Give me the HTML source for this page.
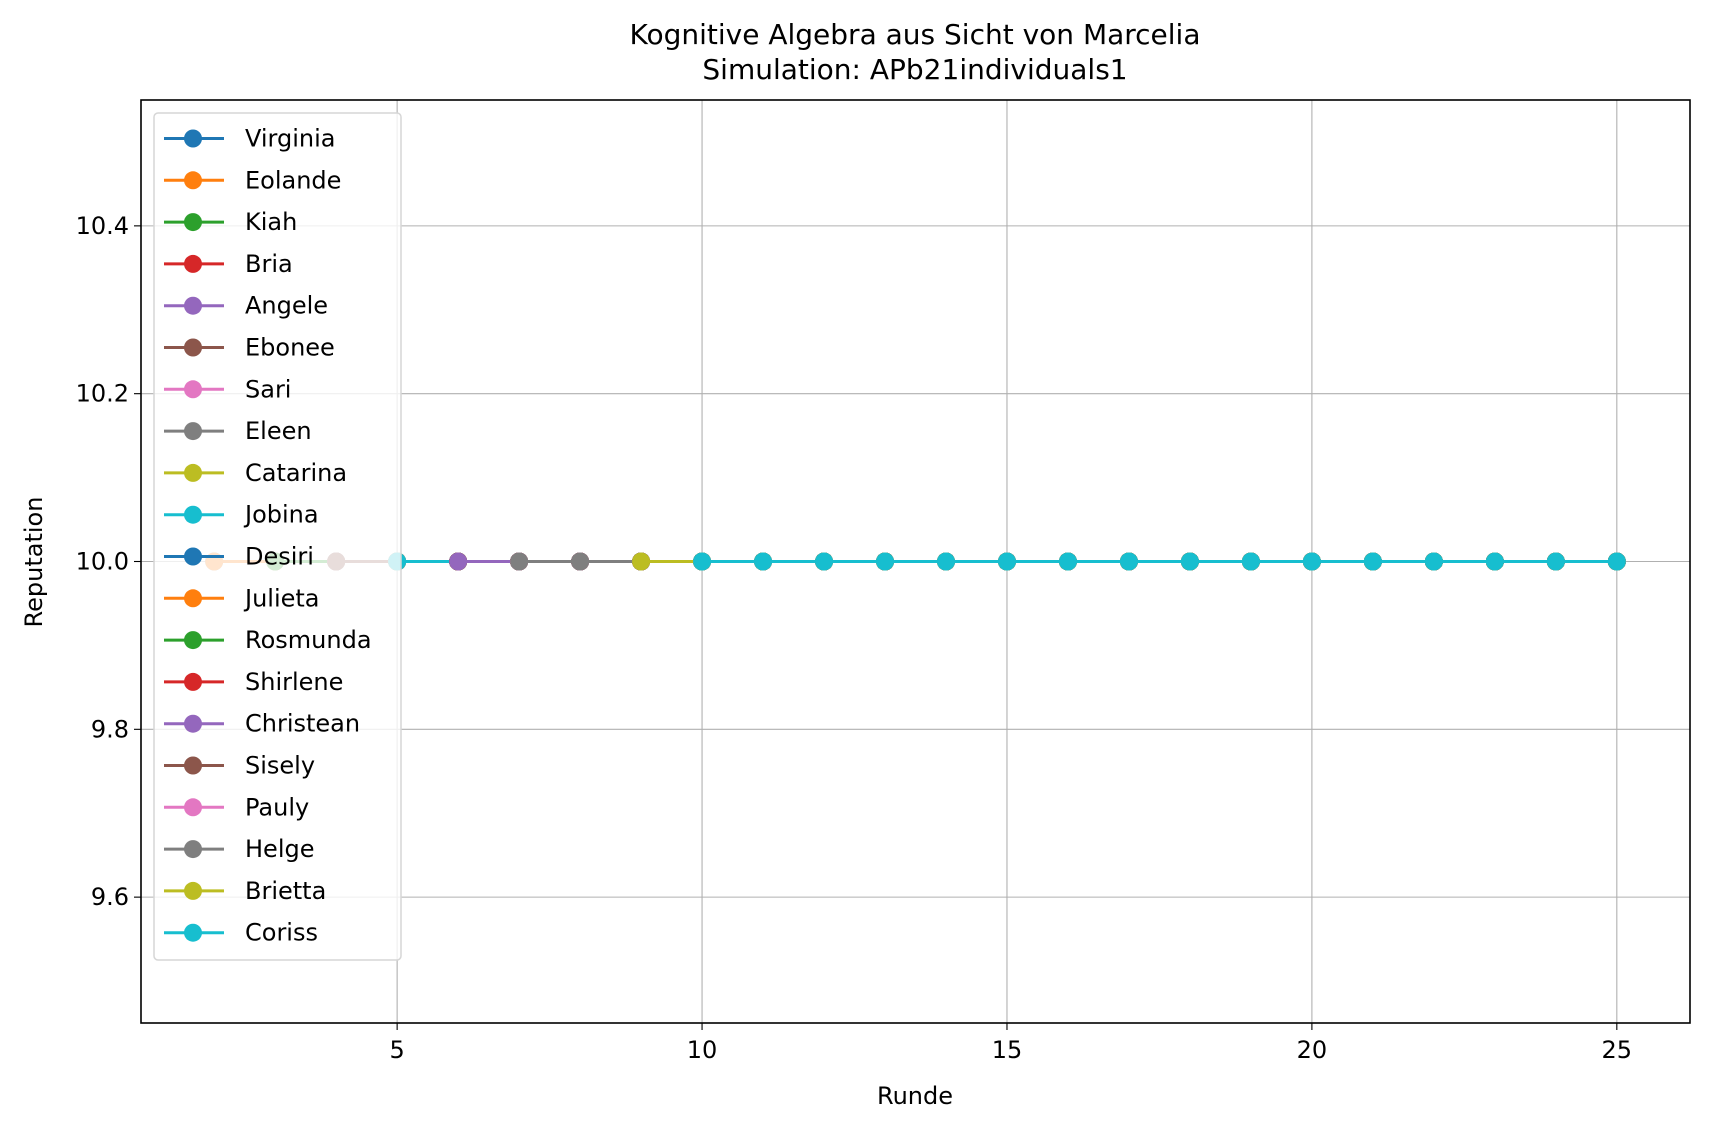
<!DOCTYPE html>
<html><head><meta charset="utf-8"><style>
body{margin:0;background:#fff}
svg{display:block;font-family:"DejaVu Sans","Liberation Sans",sans-serif}
</style></head><body>
<svg id="chart" width="1710" height="1131" viewBox="0 0 1710 1131">
<rect width="1710" height="1131" fill="#fff"/>
<text x="915" y="44" font-size="28" text-anchor="middle">Kognitive Algebra aus Sicht von Marcelia</text>
<text x="915" y="79" font-size="28" text-anchor="middle">Simulation: APb21individuals1</text>
<g id="grid"></g>
<g id="series"></g>
<g id="axes"></g>
<g id="legend"></g>
<text x="915" y="1104" font-size="24" text-anchor="middle">Runde</text>
<text x="0" y="0" font-size="24" text-anchor="middle" transform="translate(42,562) rotate(-90)">Reputation</text>
</svg>
<script>
const names=["Virginia","Eolande","Kiah","Bria","Angele","Ebonee","Sari","Eleen","Catarina","Jobina","Desiri","Julieta","Rosmunda","Shirlene","Christean","Sisely","Pauly","Helge","Brietta","Coriss"];
const startRounds=[2,2,3,4,4,4,5,5,5,5,6,6,6,6,6,7,7,7,9,10];
const lastRound=25;
const seriesValue=10.0;
const xTicks=[5,10,15,20,25];
const yTicks=[9.6,9.8,10.0,10.2,10.4];
const yTickLabels=["9.6","9.8","10.0","10.2","10.4"];
const colors=["#1f77b4","#ff7f0e","#2ca02c","#d62728","#9467bd","#8c564b","#e377c2","#7f7f7f","#bcbd22","#17becf"];
const L=141,R=1690,T=100,B=1023;
const xMin=0.8,xMax=26.2,yMin=9.45,yMax=10.55;
const X=v=>L+(v-xMin)/(xMax-xMin)*(R-L);
const Y=v=>B-(v-yMin)/(yMax-yMin)*(B-T);
const NS="http://www.w3.org/2000/svg";
function mk(tag,attrs,parent){const e=document.createElementNS(NS,tag);for(const k in attrs)e.setAttribute(k,attrs[k]);parent.appendChild(e);return e;}
const grid=document.getElementById('grid'),axes=document.getElementById('axes'),ser=document.getElementById('series'),leg=document.getElementById('legend');
xTicks.forEach(t=>{
 const g=mk('line',{x1:X(t),x2:X(t),y1:T,y2:B,stroke:'#b0b0b0','stroke-width':1.1},grid);
 
 
 const tk=mk('line',{x1:X(t),x2:X(t),y1:B,y2:B+7,stroke:'#000','stroke-width':1.1},axes);
 
 
 const tl=mk('text',{x:X(t),y:B+35,'font-size':24,'text-anchor':'middle'},axes);
 tl.textContent=t;
 
 
});
yTicks.forEach((t,i)=>{
 const g=mk('line',{x1:L,x2:R,y1:Y(t),y2:Y(t),stroke:'#b0b0b0','stroke-width':1.1},grid);
 
 
 const tk=mk('line',{x1:L-7,x2:L,y1:Y(t),y2:Y(t),stroke:'#000','stroke-width':1.1},axes);
 
 
 const tl=mk('text',{x:L-12,y:Y(t)+8,'font-size':24,'text-anchor':'end'},axes);
 tl.textContent=yTickLabels[i];
 
 
});
const frame=mk('rect',{x:L,y:T,width:R-L,height:B-T,fill:'none',stroke:'#000','stroke-width':1.6},axes);


names.forEach((n,i)=>{
 const c=colors[i%10];
 const g=mk('g',{},ser);
 
 
 const pts=[];for(let r=startRounds[i];r<=lastRound;r++)pts.push([X(r),Y(seriesValue)]);
 const pl=mk('polyline',{points:pts.map(p=>p.join(',')).join(' '),fill:'none',stroke:c,'stroke-width':3},g);
 
 
 pts.forEach(p=>{
  const m=mk('circle',{cx:p[0],cy:p[1],r:9,fill:c},g);
  
  
 });
});
const lb=mk('rect',{x:154,y:113,width:247,height:847,rx:4,fill:'rgba(255,255,255,0.8)',stroke:'#d6d6d6','stroke-width':1.5},leg);


names.forEach((n,i)=>{
 const c=colors[i%10];const y=138.5+i*41.8;
 const g=mk('g',{},leg);
 
 
 mk('line',{x1:164,x2:224,y1:y,y2:y,stroke:c,'stroke-width':3},g);
 mk('circle',{cx:193,cy:y,r:9,fill:c},g);
 const t=mk('text',{x:245,y:y+8,'font-size':24},g);
 t.textContent=n;
});
</script>
</body></html>
